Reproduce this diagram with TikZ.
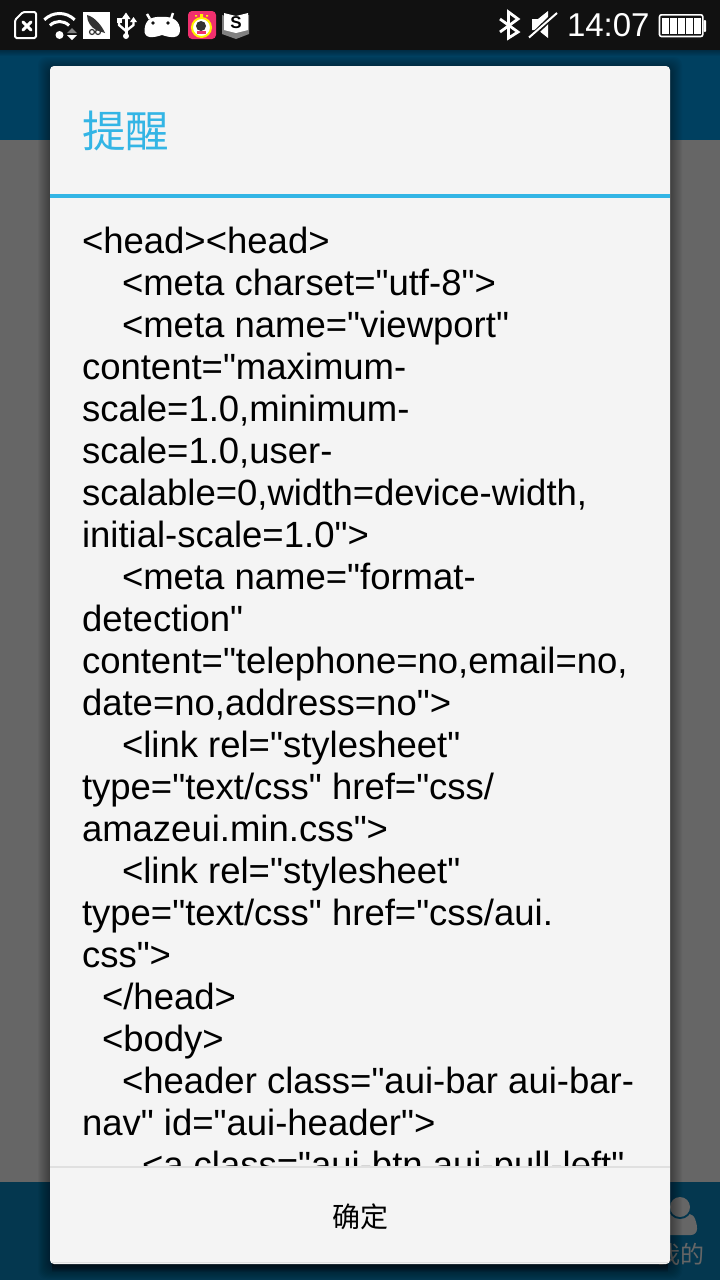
\documentclass[tikz,border=0pt]{standalone}
\usepackage{xcolor}
\usepackage{fontspec}
\newfontfamily\srcfont{Liberation Sans}
\newfontfamily\cjkfont{Noto Sans CJK SC}
\usetikzlibrary{arrows, positioning}
\definecolor{statusbar}{HTML}{111111}
\definecolor{navblue}{HTML}{004060}
\definecolor{tabblue}{HTML}{04374F}
\definecolor{dimgrey}{HTML}{666666}
\definecolor{dialogbg}{HTML}{F4F4F4}
\definecolor{titleblue}{HTML}{33B5E5}
\definecolor{rulegrey}{HTML}{E0E0E0}
\definecolor{appred}{HTML}{F0306E}
\newcommand{\ind}[1]{\hspace*{#1pt}}
\tikzset{
	plain/.style={inner sep=0pt, outer sep=0pt},
	icon/.style={draw=white, line width=2pt, line cap=round}
}
\begin{document}
\begin{tikzpicture}[x=1pt, y=-1pt]
	\useasboundingbox (0,0) rectangle (720,1280);
	% screen behind the dialog
	\fill[dimgrey] (0,0) rectangle (720,1280);
	\fill[navblue] (0,50) rectangle (720,140);
	\fill[tabblue] (0,1182) rectangle (720,1280);
	\fill[statusbar] (0,0) rectangle (720,50);
	\foreach \d in {1,2,...,6}
		\fill[black, opacity=.05] (0,50) rectangle (720,50+\d);
	% tab item, half hidden
	\fill[dimgrey, rounded corners=6pt] (663,1235) -- (663,1222) .. controls (667,1215) and (673,1213) .. (680,1213) .. controls (687,1213) and (693,1215) .. (697,1222) -- (697,1235) -- cycle;
	\fill[tabblue] (680,1207) circle (12);
	\fill[dimgrey] (680,1207) circle (10);
	\node (tabme) at (680,1254) [plain, text=dimgrey, font=\cjkfont\fontsize{24}{24}\selectfont] {我的};
	% shadow
	\foreach \s in {1,2,...,12}
		\fill[black, opacity=.03, rounded corners=8pt] (50-\s,66-\s+3) rectangle (670+\s,1264+\s+3);
	\foreach \s in {1,2,...,8}
		\fill[black, opacity=.07] (52,1262) rectangle (668,1264+\s);
	% dialog
	\node (dialog) at (360,665) [plain, fill=dialogbg, minimum width=620pt, minimum height=1198pt, rounded corners=4pt] {};
	\fill[rulegrey] (dialog.south west) ++(2,-1) rectangle ++(616,-1);
	\node (title) at (82,131) [plain, anchor=west, text=titleblue, font=\cjkfont\fontsize{43.5}{43.5}\selectfont] {提醒};
	\fill[titleblue] (50,194) rectangle (670,198);
	\begin{scope}
		\clip (50,198) rectangle (670,1166);
		\node (source) at (82,227) [plain, anchor=north west, align=left, font=\srcfont\fontsize{36.5}{42}\selectfont] {%
			<head><head>\\
			\ind{40}<meta charset="utf-8">\\
			\ind{40}<meta name="viewport"\\
			content="maximum-\\
			scale=1.0,minimum-\\
			scale=1.0,user-\\
			scalable=0,width=device-width,\\
			initial-scale=1.0">\\
			\ind{40}<meta name="format-\\
			detection"\\
			content="telephone=no,email=no,\\
			date=no,address=no">\\
			\ind{40}<link rel="stylesheet"\\
			type="text/css" href="css/\\
			amazeui.min.css">\\
			\ind{40}<link rel="stylesheet"\\
			type="text/css" href="css/aui.\\
			css">\\
			\ind{20}</head>\\
			\ind{20}<body>\\
			\ind{40}<header class="aui-bar aui-bar-\\
			nav" id="aui-header">\\
			\ind{60}<a class="aui-btn aui-pull-left"};
	\end{scope}
	\fill[rulegrey] (50,1166) rectangle (670,1168);
	\node (confirm) at (360,1217) [plain, font=\cjkfont\fontsize{28}{28}\selectfont] {确定};
	% status bar, left
	\draw[white, line width=2pt, rounded corners=1.5pt, line join=round] (23,12) -- (36,12) -- (36,38) -- (15,38) -- (15,20) -- cycle;
	\draw[icon, line width=3pt] (23,22) -- (31,30) (31,22) -- (23,30);
	\fill[white] (59.5,35) circle (4);
	\foreach \r in {13.5,21.5}
		\draw[white, line width=3pt] (59.5,35) ++(-135:\r) arc[start angle=-135, end angle=-45, radius=\r];
	\fill[gray] (67,33) -- (77,33) -- (72,28) -- cycle;
	\fill[white] (67,35) -- (77,35) -- (72,40) -- cycle;
	\fill[white] (82.500,11.500) rectangle (109.500,39);
	\fill[black!80] (87,15) .. controls (95,17) and (102,26) .. (105,33) -- (96,30) .. controls (91,27) and (87,22) .. (87,15);
	\draw[black!80, line width=1.200pt] (92,32) circle (2.5) (98,32) circle (2.5);
	\fill[white] (126,12.500) -- (130.500,19) -- (121.500,19) -- cycle;
	\draw[icon, line width=3pt, line cap=butt] (126,17) -- (126,36);
	\draw[icon, line width=2.400pt, line cap=butt] (119,19) -- (119,25) -- (126,31) -- (133.500,25) -- (133.500,21);
	\fill[white] (116.500,18) rectangle (121.500,23);
	\fill[white] (133.500,17) -- (137,22) -- (130,22) -- cycle;
	\fill[white] (126,36) circle (3);
	\fill[white] (144.500,30) .. controls (145,21) and (150,16) .. (162,17) .. controls (174,16) and (180,22) .. (180,30) .. controls (180,39) and (171,38) .. (162,35) .. controls (153,38) and (144,39) .. (144.500,30);
	\draw[white, line width=2.500pt] (150,19) -- (147,14) (171,19) -- (173,13);
	\fill[statusbar] (153,23) circle (1.8) (168,23) circle (1.8);
	\fill[appred, rounded corners=4pt] (188,11) rectangle (216,39);
	\fill[white] (201.500,27.500) circle (9);
	\draw[yellow, line width=2pt] (201.500,27.500) circle (9.500);
	\fill[black!80] (201,26) circle (5);
	\fill[appred] (197,31) rectangle (206,33.500);
	\fill[yellow] (200,14) rectangle (203,18) (195,15) rectangle (197,16.500) (206,15) rectangle (208,16.500);
	\fill[gray] (222,15) -- (236,19) -- (249,15) -- (249,34) -- (236,39) -- (222,34) -- cycle;
	\fill[white] (224,13) -- (236,16) -- (248,13) -- (248,30) -- (236,33) -- (224,30) -- cycle;
	\node (bookletter) at (236,23) [plain, font=\srcfont\bfseries\fontsize{17}{17}\selectfont, text=black] {S};
	% status bar, right
	\draw[icon, line width=2.800pt, line join=miter, line cap=butt] (500,19) -- (518,32) -- (508.500,38) -- (508.500,12) -- (518,19) -- (500,32);
	\fill[white] (532,19) -- (538,19) -- (548,11) -- (548,38) -- (538,30) -- (532,30) -- cycle;
	\draw[statusbar, line width=5pt] (530,38) -- (556,13);
	\draw[white, line width=2pt] (529,37.500) -- (557,13);
	\node (clock) at (567,25) [plain, anchor=west, text=white, font=\srcfont\fontsize{33}{33}\selectfont] {14:07};
	\draw[white, line width=1.6pt, rounded corners=2pt] (659.500,14.800) rectangle (702.800,36.500);
	\fill[white, rounded corners=1pt] (703.500,20) rectangle (706,32);
	\foreach \b in {662,670,678,686,694}
		\fill[white] (\b,17.500) rectangle ++(7,16.500);
\end{tikzpicture}
\end{document}
